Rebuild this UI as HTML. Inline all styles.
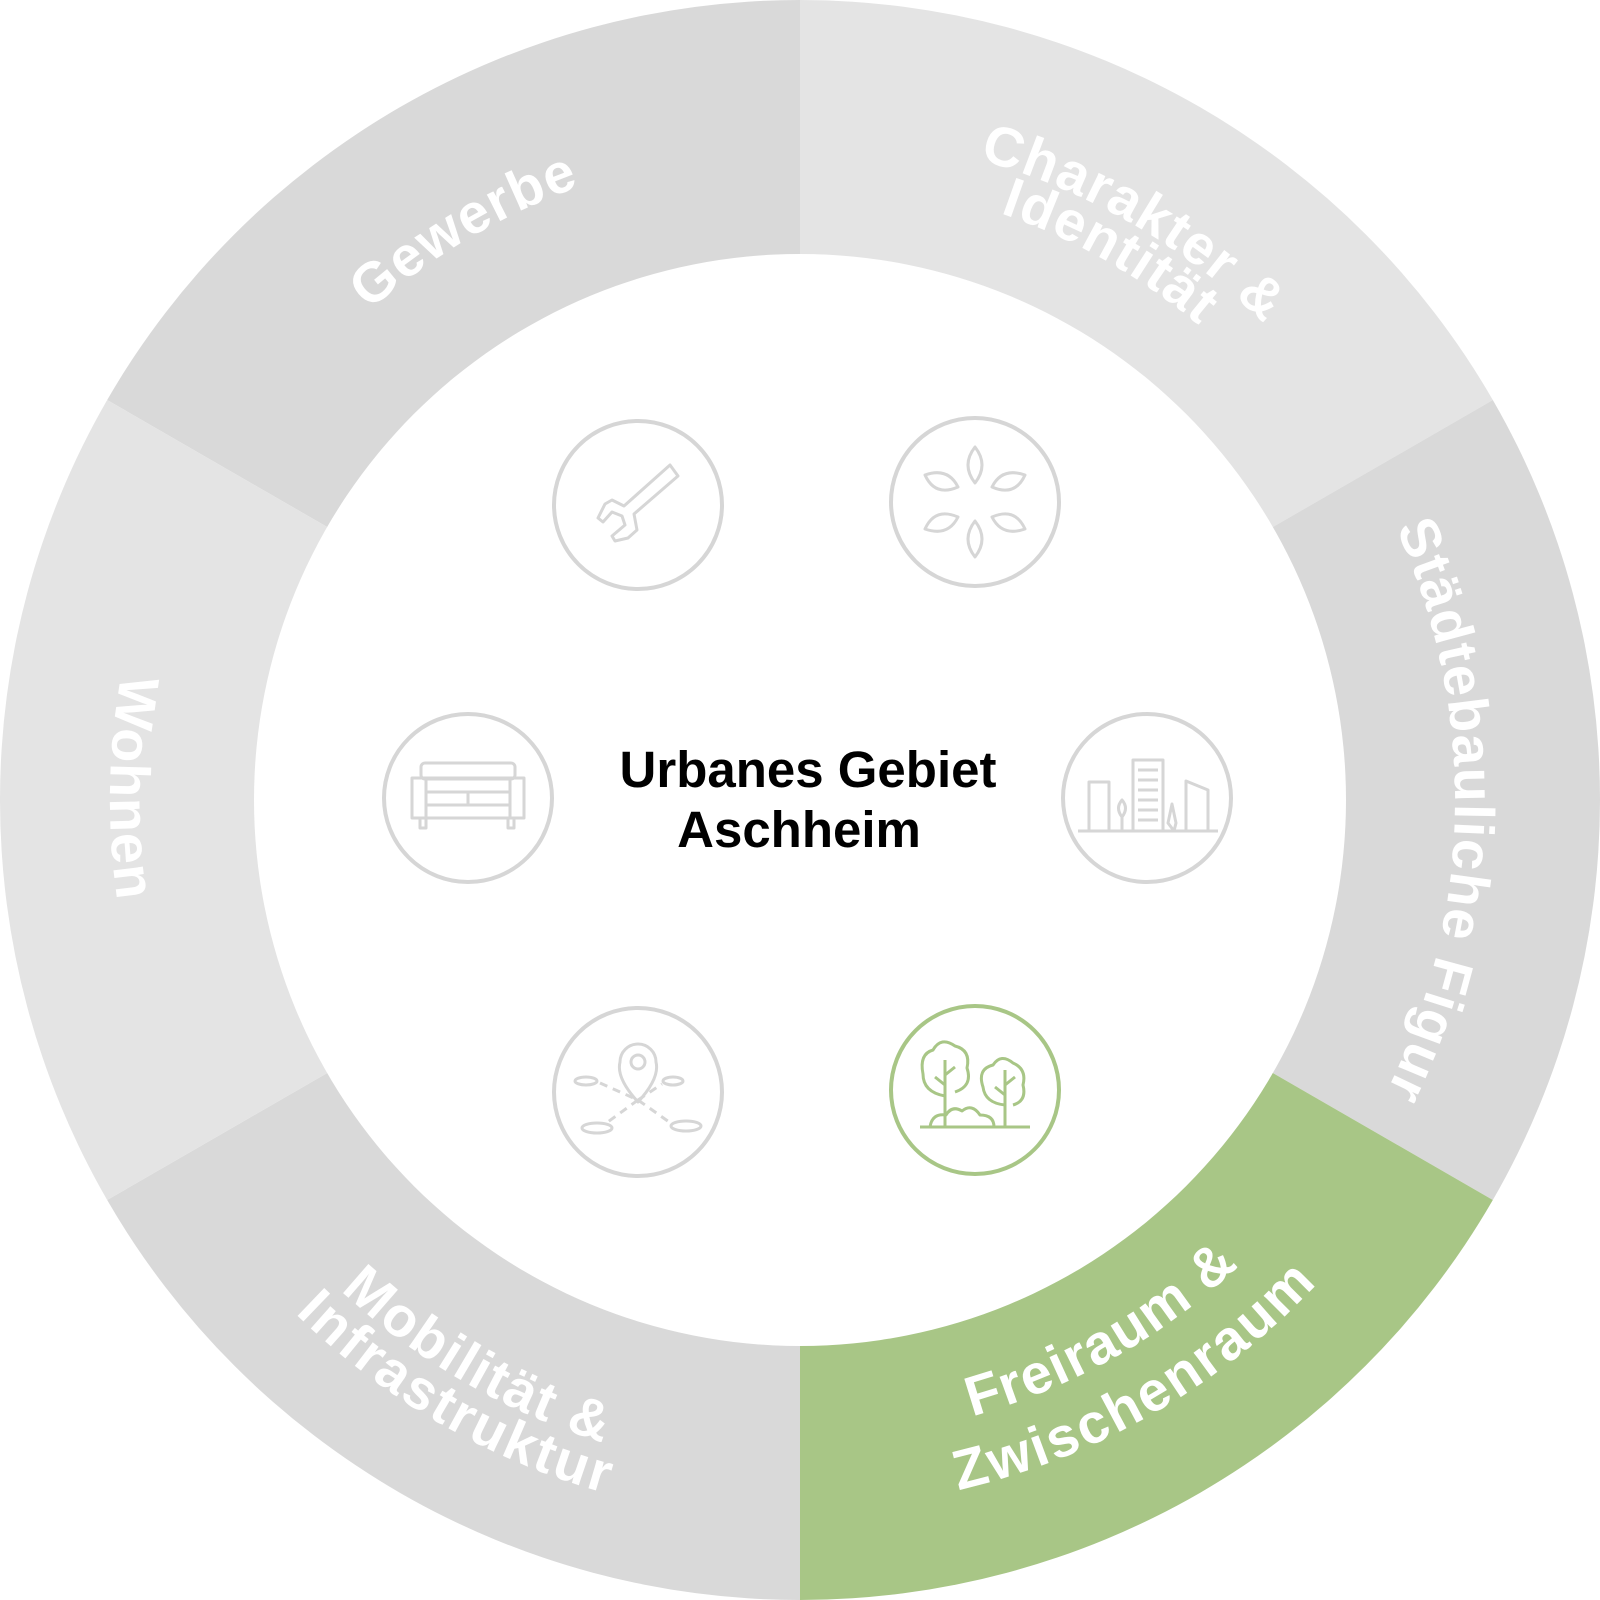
<!DOCTYPE html>
<html><head><meta charset="utf-8"><style>
html,body{margin:0;padding:0;background:#fff;}
svg{display:block;}
text{font-family:"Liberation Sans",sans-serif;font-weight:bold;}
</style></head><body>
<svg id="s" width="1600" height="1600" viewBox="0 0 1600 1600" xmlns="http://www.w3.org/2000/svg">
<g id="segs"></g>
<circle cx="800" cy="800" r="546" fill="#fff"/>
<g id="labels"></g>
<g fill="none" stroke="#d6d6d6" stroke-width="4">
<circle cx="638" cy="505" r="84"/>
<circle cx="975" cy="502" r="84"/>
<circle cx="468" cy="798" r="84"/>
<circle cx="1147" cy="798" r="84"/>
<circle cx="638" cy="1092" r="84"/>
<circle cx="975" cy="1090" r="84" stroke="#a8c686"/>
</g>
<g fill="none" stroke="#d6d6d6" stroke-width="3" stroke-linejoin="round">
<path d="M670 465 L678 476 L634 514 L637 530 L628 538 L615 541 L612 536 L625 525 L622 516 L612 512 L603 522 L598 518 L605 504 L612 500 L624 506 Z"/>
<path d="M975 447 q-14 18 0 36 q14 -18 0 -36z"/>
<path d="M975 521 q-14 18 0 36 q14 -18 0 -36z"/>
<path d="M925 475 q10 22 33 12 q-10 -20 -33 -12z"/>
<path d="M1025 475 q-10 22 -33 12 q10 -20 33 -12z"/>
<path d="M925 529 q10 -22 33 -12 q-10 20 -33 12z"/>
<path d="M1025 529 q-10 -22 -33 -12 q10 20 33 12z"/>
<rect x="421" y="763" width="94" height="16" rx="4"/>
<rect x="412" y="778" width="112" height="40"/>
<line x1="426" y1="778" x2="426" y2="818"/><line x1="510" y1="778" x2="510" y2="818"/>
<line x1="426" y1="792" x2="510" y2="792"/><line x1="468" y1="792" x2="468" y2="805"/>
<line x1="426" y1="805" x2="510" y2="805"/>
<rect x="420" y="818" width="6" height="10"/><rect x="508" y="818" width="6" height="10"/>
<line x1="1078" y1="831" x2="1218" y2="831"/>
<rect x="1089" y="782" width="20" height="49"/>
<rect x="1133" y="760" width="30" height="71"/>
<line x1="1138" y1="770" x2="1158" y2="770"/><line x1="1138" y1="780" x2="1158" y2="780"/><line x1="1138" y1="790" x2="1158" y2="790"/><line x1="1138" y1="800" x2="1158" y2="800"/><line x1="1138" y1="810" x2="1158" y2="810"/><line x1="1138" y1="820" x2="1158" y2="820"/>
<path d="M1186 781 L1208 790 L1208 831 L1186 831 Z"/>
<path d="M1122 831 V815 M1122 800 q-7 8 0 17 q7 -9 0 -17z"/>
<path d="M1174 831 L1168 823 L1172 804 L1176 823 Z"/>
<path d="M638 1102 q-22 -24 -18 -40 a18 18 0 0 1 36 0 q4 16 -18 40z"/><circle cx="638" cy="1062" r="7"/>
<ellipse cx="586" cy="1081" rx="11" ry="4"/><ellipse cx="673" cy="1081" rx="10" ry="4"/>
<ellipse cx="597" cy="1128" rx="15" ry="5"/><ellipse cx="686" cy="1126" rx="15" ry="5"/>
<path d="M600 1083 L638 1100 L672 1124 M638 1100 L605 1124 M638 1100 L662 1084" stroke-dasharray="8 6"/>
</g>
<g fill="none" stroke="#a8c686" stroke-width="3" stroke-linejoin="round">
<line x1="920" y1="1127" x2="1030" y2="1127"/>
<path d="M945 1127 V1060 M945 1085 l-10 -8 M945 1075 l10 -8"/>
<path d="M945 1096 q-22 -4 -22 -22 q-4 -20 10 -24 q8 -14 22 -4 q16 4 12 22 q6 18 -12 24"/>
<path d="M1005 1127 V1070 M1005 1095 l-10 -8 M1005 1085 l10 -8"/>
<path d="M1005 1105 q-20 -2 -22 -18 q-6 -18 10 -22 q8 -12 20 -2 q14 6 10 22 q4 16 -10 20"/>
<path d="M930 1127 q2 -14 16 -12 q6 -10 16 -4 q10 -8 18 4 q14 0 14 12"/>
</g>
<text x="808" y="787" font-size="51" text-anchor="middle" fill="#000">Urbanes Gebiet</text>
<text x="799" y="847" font-size="51" text-anchor="middle" fill="#000">Aschheim</text>
</svg>
<script>
var NS="http://www.w3.org/2000/svg",cx=800,cy=800;
function pt(r,a){a=a*Math.PI/180;return [cx+r*Math.cos(a),cy+r*Math.sin(a)];}
var segs=[[-150,-90,"#d9d9d9"],[-90,-30,"#e4e4e4"],[-30,30,"#d9d9d9"],[30,90,"#a8c686"],[90,150,"#d9d9d9"],[150,210,"#e4e4e4"]];
var g=document.getElementById("segs");
segs.forEach(function(s){var p1=pt(800,s[0]),p2=pt(800,s[1]);
var p=document.createElementNS(NS,"path");
p.setAttribute("d","M800 800 L"+p1+" A800 800 0 0 1 "+p2+" Z");p.setAttribute("fill",s[2]);g.appendChild(p);});
var L=document.getElementById("labels"),n=0;
function lab(t,r,ang,cw,ls){var a0=cw?ang-85:ang+85,a1=cw?ang+85:ang-85;var p1=pt(r,a0),p2=pt(r,a1);
var id="lp"+(n++);var p=document.createElementNS(NS,"path");p.setAttribute("id",id);
p.setAttribute("d","M"+p1+" A"+r+" "+r+" 0 0 "+(cw?1:0)+" "+p2);p.setAttribute("fill","none");L.appendChild(p);
var tx=document.createElementNS(NS,"text");tx.setAttribute("font-size",56);tx.setAttribute("fill","#fff");tx.setAttribute("letter-spacing",ls==null?1.5:ls);
var tp=document.createElementNS(NS,"textPath");tp.setAttribute("href","#"+id);tp.setAttribute("startOffset","50%");tp.setAttribute("text-anchor","middle");tp.textContent=t;tx.appendChild(tp);L.appendChild(tx);}
lab("Gewerbe",652,-120.5,true);
lab("Charakter &",665,-60,true);
lab("Identität",620,-60.5,true);
lab("Städtebauliche Figur",655,1,true);
lab("Wohnen",690,181,false);
lab("Mobilität &",672,120,false,2);
lab("Infrastruktur",720,120,false,2.5);
lab("Freiraum &",640,60.5,false);
lab("Zwischenraum",708,60,false,2.5);
</script>
</body></html>
